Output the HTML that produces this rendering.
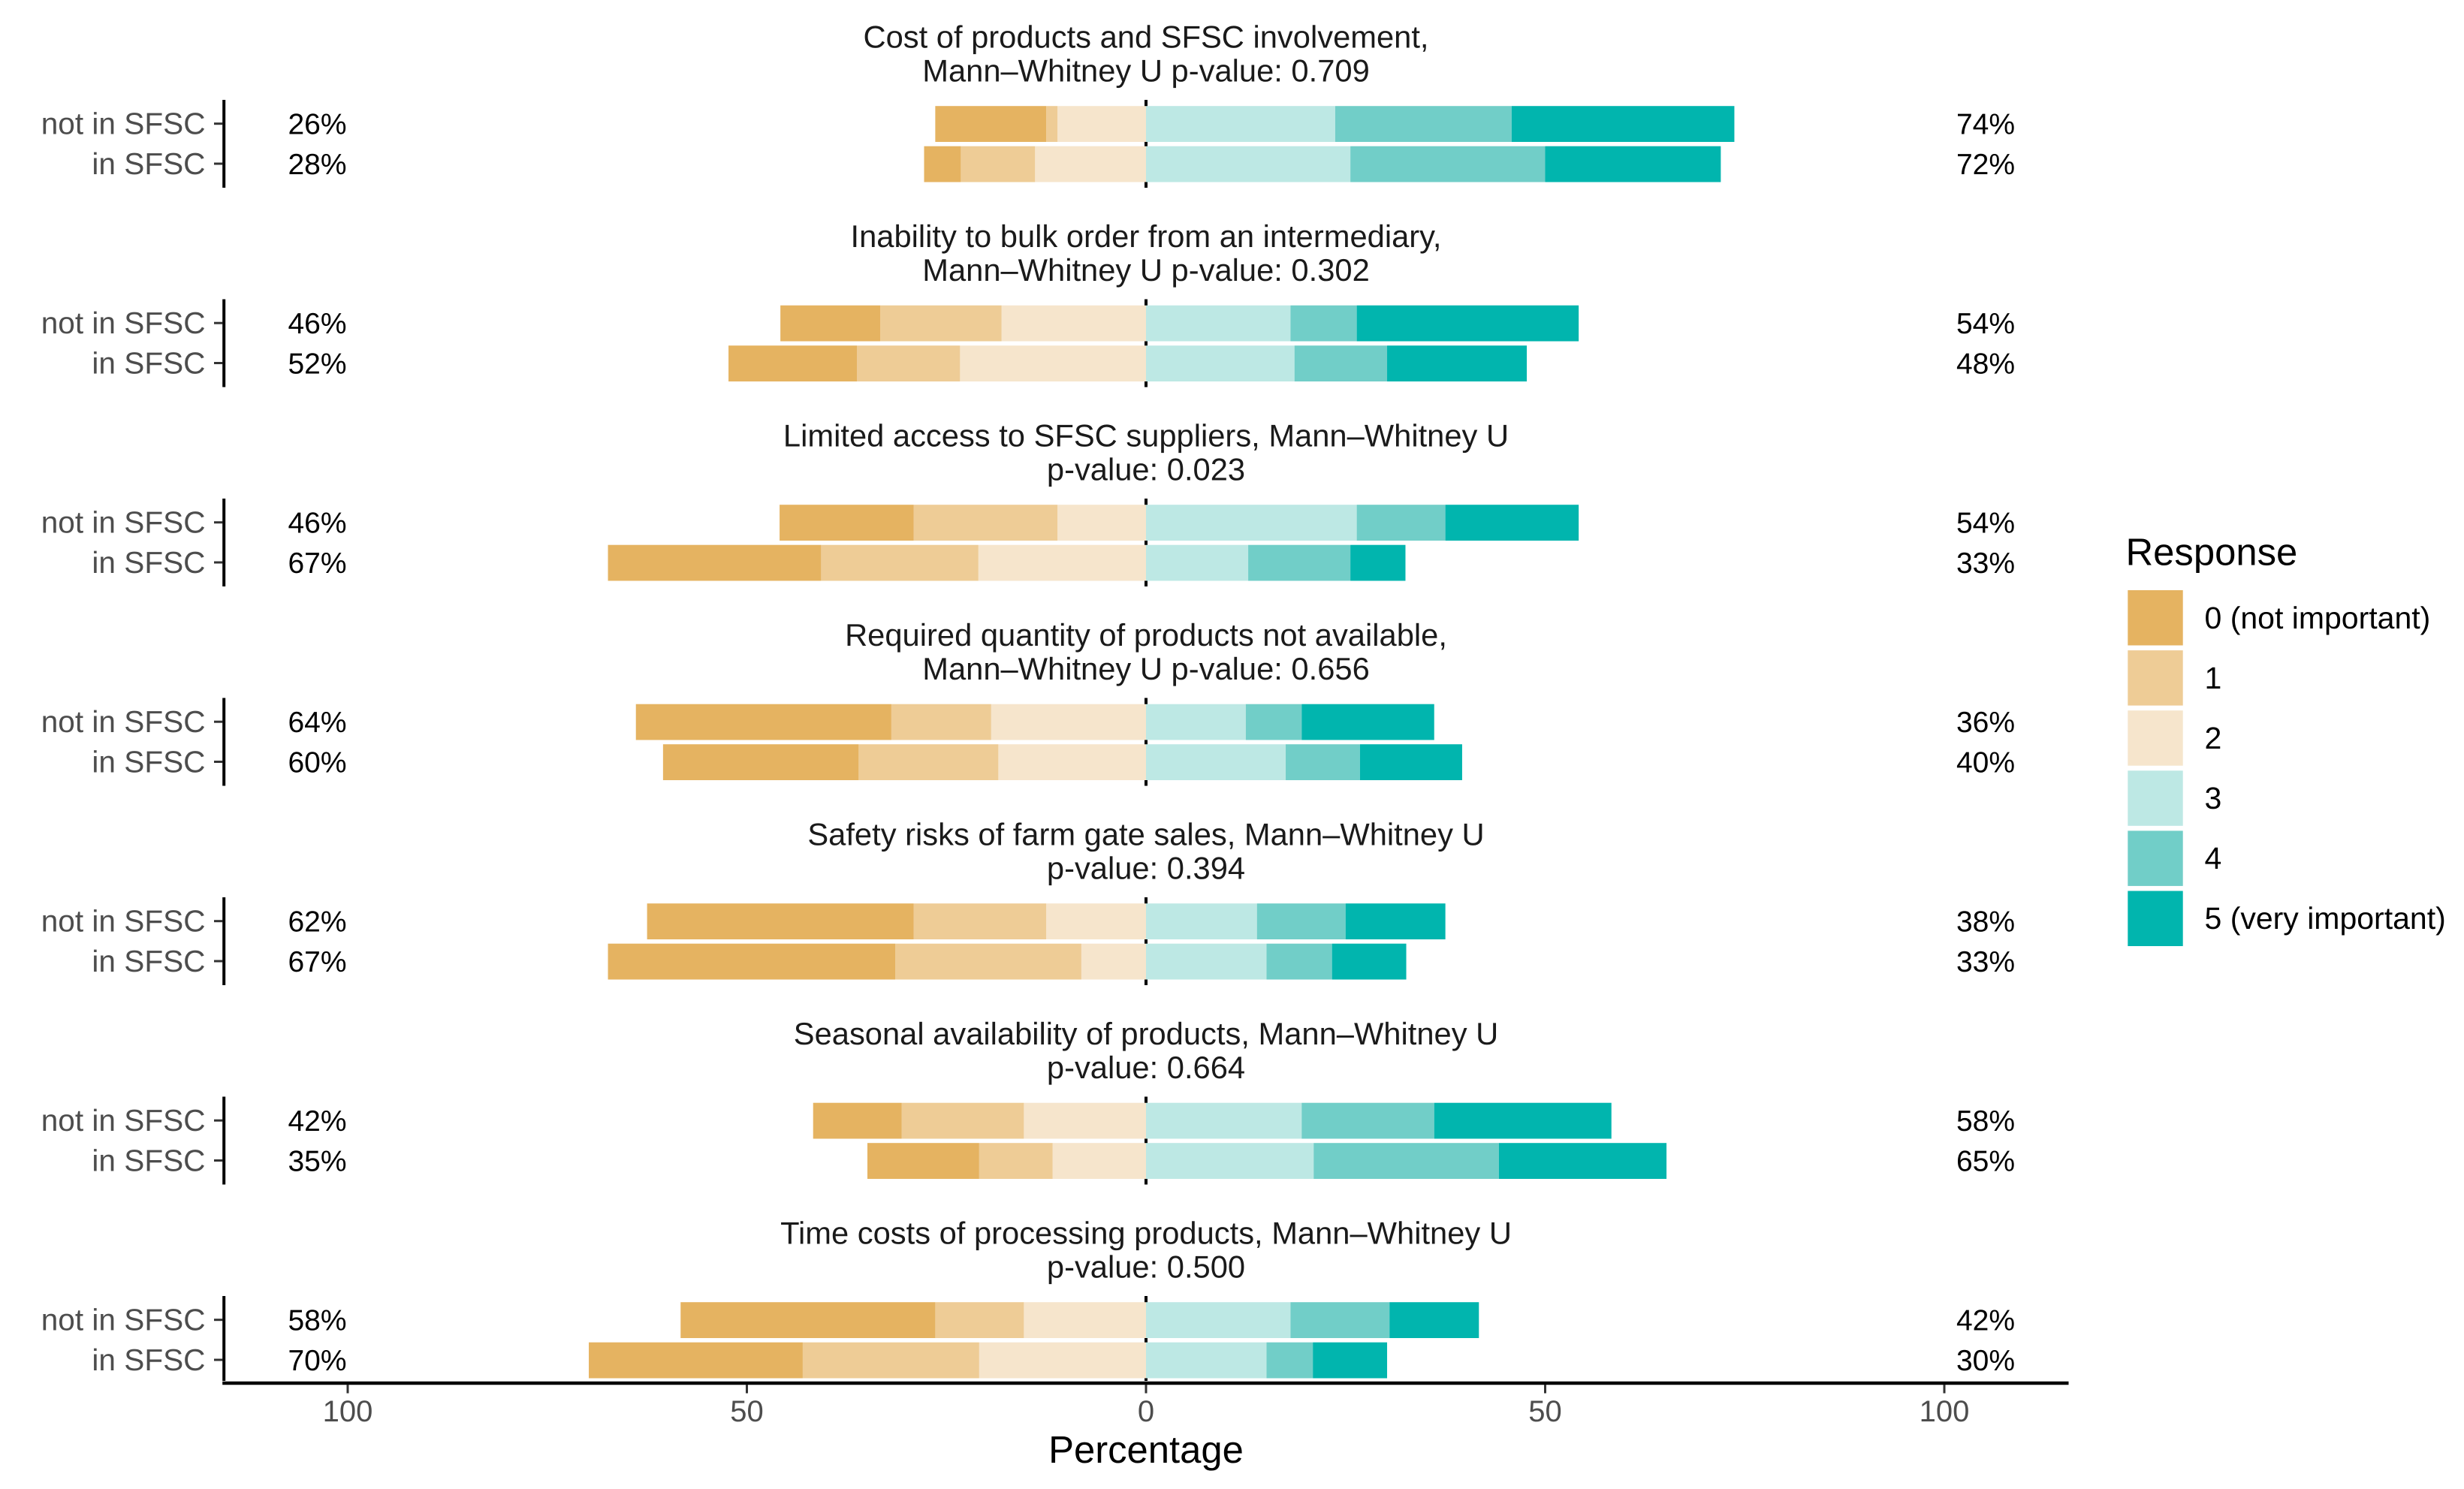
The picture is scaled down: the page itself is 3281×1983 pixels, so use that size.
<!DOCTYPE html>
<html lang="en">
<head>
<meta charset="utf-8">
<title>Likert chart of SFSC barriers</title>
<style>
html,body{margin:0;padding:0;background:#fff;}
body{width:3281px;height:1983px;overflow:hidden;}
svg{display:block;font-family:"Liberation Sans",Arial,sans-serif;text-rendering:geometricPrecision;}
</style>
</head>
<body>
<svg id="chart" xmlns="http://www.w3.org/2000/svg" width="3281" height="1983" viewBox="0 0 3281 1983"></svg>
<script>
const titleLine1 = [
  "Cost of products and SFSC involvement,",
  "Inability to bulk order from an intermediary,",
  "Limited access to SFSC suppliers, Mann\u2013Whitney U",
  "Required quantity of products not available,",
  "Safety risks of farm gate sales, Mann\u2013Whitney U",
  "Seasonal availability of products, Mann\u2013Whitney U",
  "Time costs of processing products, Mann\u2013Whitney U"
];
const titleLine2 = [
  "Mann\u2013Whitney U p-value: 0.709",
  "Mann\u2013Whitney U p-value: 0.302",
  "p-value: 0.023",
  "Mann\u2013Whitney U p-value: 0.656",
  "p-value: 0.394",
  "p-value: 0.664",
  "p-value: 0.500"
];
const groups = ["not in SFSC", "in SFSC"];
const responses = ["0 (not important)", "1", "2", "3", "4", "5 (very important)"];
const colors = ["#E5B361", "#EECC96", "#F6E5CC", "#BDE8E4", "#71CEC8", "#01B5AE"];
const xTicks = [-100, -50, 0, 50, 100];
const xTickLabels = ["100", "50", "0", "50", "100"];

// share of respondents per response level; rows run panel by panel: not in SFSC, in SFSC
const resp0 = [13.9, 4.6, 12.5, 16.1, 16.8, 26.7, 32.0, 24.5, 33.4, 36.0, 11.1, 14.0, 31.9, 26.8];
const resp1 = [1.4, 9.3, 15.2, 12.9, 18.0, 19.7, 12.5, 17.5, 16.6, 23.3, 15.3, 9.2, 11.1, 22.1];
const resp2 = [11.1, 13.9, 18.1, 23.3, 11.1, 21.0, 19.4, 18.5, 12.5, 8.1, 15.3, 11.7, 15.3, 20.9];
const resp3 = [23.7, 25.6, 18.1, 18.6, 26.4, 12.8, 12.5, 17.5, 13.9, 15.1, 19.5, 21.0, 18.1, 15.1];
const resp4 = [22.1, 24.4, 8.3, 11.6, 11.1, 12.8, 7.0, 9.3, 11.1, 8.2, 16.6, 23.2, 12.4, 5.8];
const resp5 = [27.9, 22.0, 27.8, 17.5, 16.7, 6.9, 16.6, 12.8, 12.5, 9.3, 22.2, 21.0, 11.2, 9.3];
const leftLabels = ["26%", "28%", "46%", "52%", "46%", "67%", "64%", "60%", "62%", "67%", "42%", "35%", "58%", "70%"];
const rightLabels = ["74%", "72%", "54%", "48%", "54%", "33%", "36%", "40%", "38%", "33%", "58%", "65%", "42%", "30%"];

const NS = "http://www.w3.org/2000/svg";
const svg = document.getElementById("chart");
const series = [resp0, resp1, resp2, resp3, resp4, resp5];

function xScale(v) { return 1526 + 10.63 * v; }
function panelTop(p) { return 133 + 265.5 * p; }
function barTop(row) {
  const p = Math.floor(row / 2);
  return panelTop(p) + (row % 2 === 0 ? 8.2 : 61.7);
}
function tickY(row) {
  const p = Math.floor(row / 2);
  return panelTop(p) + (row % 2 === 0 ? 31.7 : 85);
}
function make(tag, attrs, text) {
  const el = document.createElementNS(NS, tag);
  for (const k in attrs) el.setAttribute(k, attrs[k]);
  if (text !== undefined) el.textContent = text;
  svg.appendChild(el);
  return el;
}
function line(x1, y1, x2, y2, w, color) {
  return make("line", { x1: x1, y1: y1, x2: x2, y2: y2, stroke: color, "stroke-width": w });
}
function label(x, y, size, color, anchor, str) {
  return make("text", { x: x, y: y, "font-size": size, fill: color, "text-anchor": anchor }, str);
}

// panels: titles, axis lines
for (let p = 0; p < titleLine1.length; p++) {
  const top = panelTop(p);
  const t1 = label(1526, top - 69.4, 41.7, "#1a1a1a", "middle", titleLine1[p]);
  
  
  const t2 = label(1526, top - 24.6, 41.7, "#1a1a1a", "middle", titleLine2[p]);
  
  
  const bottom = p === titleLine1.length - 1 ? top + 113 : top + 117;
  const yAxis = line(298.2, top, 298.2, bottom, 4, "#000");
  
  
  const zero = line(xScale(0), top, xScale(0), bottom, 4, "#000");
  
  
}

// rows: tick marks, labels, stacked bars
for (let r = 0; r < resp0.length; r++) {
  const y = tickY(r);
  const tick = line(285, y, 296.5, y, 3, "#333");
  
  
  const group = label(273.5, y + 14, 40.6, "#4d4d4d", "end", groups[r % 2]);
  
  
  const leftText = label(422.5, y + 14, 39, "#000", "middle", leftLabels[r]);
  
  
  const rightText = label(2644, y + 14, 39, "#000", "middle", rightLabels[r]);
  
  

  const top = barTop(r);
  // negative side stacks from level 2 outwards to level 0
  let neg = 0;
  for (let s = 2; s >= 0; s--) {
    const v = series[s][r];
    const bar = make("rect", { x: xScale(-(neg + v)), y: top, width: xScale(v) - xScale(0), height: 47.8, fill: colors[s] });
    
    
    neg += v;
  }
  // positive side stacks from level 3 outwards to level 5
  let pos = 0;
  for (let s = 3; s <= 5; s++) {
    const v = series[s][r];
    const bar = make("rect", { x: xScale(pos), y: top, width: xScale(v) - xScale(0), height: 47.8, fill: colors[s] });
    
    
    pos += v;
  }
}

// x axis
const xAxis = line(296.2, 1842, 2754.5, 1842, 4.4, "#000");


for (let i = 0; i < xTicks.length; i++) {
  const x = xScale(xTicks[i]);
  const tick = line(x, 1844, x, 1855.5, 3, "#333");
  
  
  const text = label(x, 1893, 40, "#4d4d4d", "middle", xTickLabels[i]);
  
  
}
const xTitle = label(1526, 1948, 50.8, "#000", "middle", "Percentage");



// legend
const legendTitle = label(2830.5, 752.5, 50.8, "#000", "start", "Response");


for (let i = 0; i < responses.length; i++) {
  const swatch = make("rect", { x: 2833.3, y: 786 + 80.1 * i, width: 73.4, height: 73.5, fill: colors[i] });
  
  
  const text = label(2935.5, 837 + 80 * i, 41, "#000", "start", responses[i]);
  
  
}
</script>
</body>
</html>
